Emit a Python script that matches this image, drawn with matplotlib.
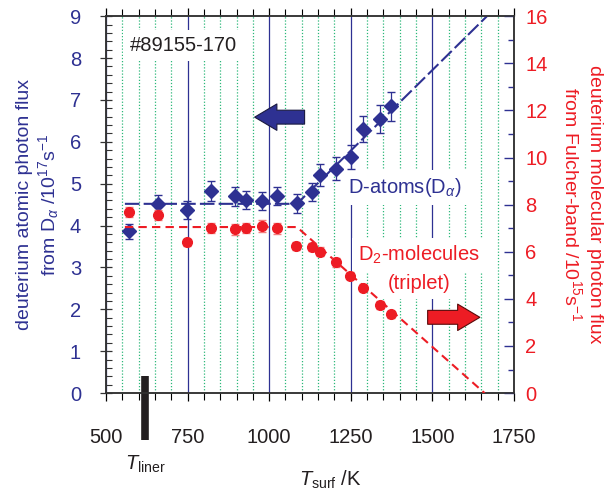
import numpy as np
import matplotlib
matplotlib.use('Agg')
import matplotlib.pyplot as plt
from matplotlib.ticker import MultipleLocator
from matplotlib.patches import FancyArrowPatch

plt.rcParams['font.family'] = ['Liberation Sans', 'DejaVu Sans']
plt.rcParams['mathtext.fontset'] = 'custom'
plt.rcParams['mathtext.rm'] = 'Liberation Sans'
plt.rcParams['mathtext.it'] = 'Liberation Sans:italic'

NAVY = '#2e3192'
RED = '#ed1c24'
GREEN = '#2db87a'

# D-atoms (D_alpha), left axis, 1e17 s^-1
t_atoms = [570, 660, 747, 823, 895, 930, 977, 1025, 1084, 1131, 1155, 1204, 1250, 1288, 1341, 1374]
flux_atoms = [3.86, 4.51, 4.37, 4.83, 4.70, 4.61, 4.59, 4.71, 4.53, 4.80, 5.20, 5.36, 5.64, 6.30, 6.54, 6.85]
err_atoms = [0.19, 0.22, 0.22, 0.24, 0.22, 0.22, 0.22, 0.22, 0.22, 0.22, 0.26, 0.27, 0.28, 0.31, 0.33, 0.34]

# D2-molecules (triplet), right axis, 1e15 s^-1
t_mol = [570, 660, 747, 823, 895, 930, 977, 1025, 1082, 1132, 1155, 1204, 1247, 1288, 1341, 1374]
flux_mol = [7.69, 7.55, 6.40, 7.02, 6.95, 7.02, 7.10, 6.99, 6.25, 6.21, 6.00, 5.55, 4.98, 4.47, 3.74, 3.35]
err_mol = [0.22, 0.22, 0.15, 0.22, 0.25, 0.22, 0.25, 0.22, 0.18, 0.18, 0.2, 0.18, 0.15, 0.15, 0.15, 0.15]

# piecewise fit lines
fit_atoms_t = [558, 1085, 1667]
fit_atoms_y = [4.52, 4.52, 9.0]
fit_mol_t = [558, 1085, 1660]
fit_mol_y = [7.05, 7.05, 0.0]

T_LINER = 621

fig = plt.figure(figsize=(6.09, 4.92), dpi=100)
ax = fig.add_axes([0.174, 0.201, 0.670, 0.766])
ax2 = ax.twinx()

ax.set_xlim(500, 1750)
ax.set_ylim(0, 9)
ax2.set_ylim(0, 16)

# vertical grid
ax.xaxis.set_major_locator(MultipleLocator(250))
ax.xaxis.set_minor_locator(MultipleLocator(50))
ax.grid(which='major', axis='x', color=NAVY, lw=0.9, ls='-')
ax.grid(which='minor', axis='x', color=GREEN, lw=0.9, ls=(0, (1, 1.5)))
ax.set_axisbelow(True)

# data
ax.plot(fit_atoms_t, fit_atoms_y, color=NAVY, lw=1.5, ls=(0, (7, 2)), zorder=3)
ax.errorbar(t_atoms, flux_atoms, yerr=err_atoms, fmt='D', color=NAVY, ms=7,
            ecolor=NAVY, elinewidth=0.9, capsize=3, zorder=4)
ax2.plot(fit_mol_t, fit_mol_y, color=RED, lw=1.5, ls=(0, (4, 2.5)), zorder=3)
ax2.errorbar(t_mol, flux_mol, yerr=err_mol, fmt='o', color=RED, ms=7,
             ecolor='#f47c7c', elinewidth=0.9, capsize=3, zorder=4)

# ticks
ax.yaxis.set_major_locator(MultipleLocator(1))
ax.yaxis.set_minor_locator(MultipleLocator(0.2))
ax.tick_params(axis='y', which='major', direction='inout', length=8, width=0.9,
               labelsize=14.5, labelcolor=NAVY, color='#333333', pad=14)
ax.tick_params(axis='y', which='minor', direction='in', length=4, width=0.8, color='#333333')
ax.tick_params(axis='x', which='major', direction='out', length=6, width=0.9,
               labelsize=14.5, labelcolor='#231f20', top=True, pad=19)
ax.tick_params(axis='x', which='minor', direction='out', length=5, width=0.8, top=True)
ax2.yaxis.set_major_locator(MultipleLocator(2))
ax2.yaxis.set_minor_locator(MultipleLocator(1))
ax2.tick_params(axis='y', which='major', direction='in', length=7, width=1.0,
                labelsize=14.5, labelcolor=RED, color=NAVY, pad=8)
ax2.tick_params(axis='y', which='minor', direction='in', length=4, width=1.0, color=NAVY)

for a in (ax, ax2):
    for s in a.spines.values():
        s.set_color('#333333')
        s.set_linewidth(1.1)

ax.set_ylabel('deuterium atomic photon flux\nfrom D$_\\alpha$ /10$^{17}$s$^{-1}$',
              color=NAVY, fontsize=14, labelpad=6, linespacing=1.2)
ax2.set_ylabel('deuterium molecular photon flux\nfrom Fulcher-band /10$^{15}$s$^{-1}$',
               color=RED, fontsize=14, rotation=270, labelpad=40, linespacing=1.2)
ax.set_xlabel('$T_{\\mathrm{surf}}$ /K', fontsize=14.5, color='#231f20')
ax.xaxis.set_label_coords(0.55, -0.2)

# annotations
wb = dict(boxstyle='square,pad=0.3', fc='white', ec='none')
ax.text(572, 8.3, '#89155-170', fontsize=14.5, color='#231f20', va='center', bbox=wb, zorder=2)
ax.text(1240, 4.9, 'D-atoms(D$_\\alpha$)', fontsize=14.5, color=NAVY, va='center', bbox=wb, zorder=2)
ax.text(1460, 3.29, 'D$_2$-molecules', fontsize=14.5, color=RED, ha='center', va='center',
        bbox=wb, zorder=2)
ax.text(1460, 2.62, '(triplet)', fontsize=14.5, color=RED, ha='center', va='center',
        bbox=wb, zorder=2)

ax.add_patch(FancyArrowPatch((1117, 6.59), (947, 6.59),
                             arrowstyle='simple,tail_width=0.5,head_width=0.95,head_length=0.8',
                             mutation_scale=20, fc=NAVY, ec='#1a1a40', lw=0.8, zorder=5))
ax.add_patch(FancyArrowPatch((1477, 1.81), (1654, 1.81),
                             arrowstyle='simple,tail_width=0.5,head_width=0.95,head_length=0.8',
                             mutation_scale=20, fc=RED, ec='#5a0a0a', lw=0.8, zorder=5))

# liner temperature marker
ax.plot([T_LINER, T_LINER], [0.42, -1.12], color='#231f20', lw=5.5, solid_capstyle='butt',
        clip_on=False, zorder=6)
ax.text(T_LINER, -1.7, '$T_{\\mathrm{liner}}$', fontsize=14.5, color='#231f20',
        ha='center', va='center')

fig.savefig('out.png', dpi=100)
